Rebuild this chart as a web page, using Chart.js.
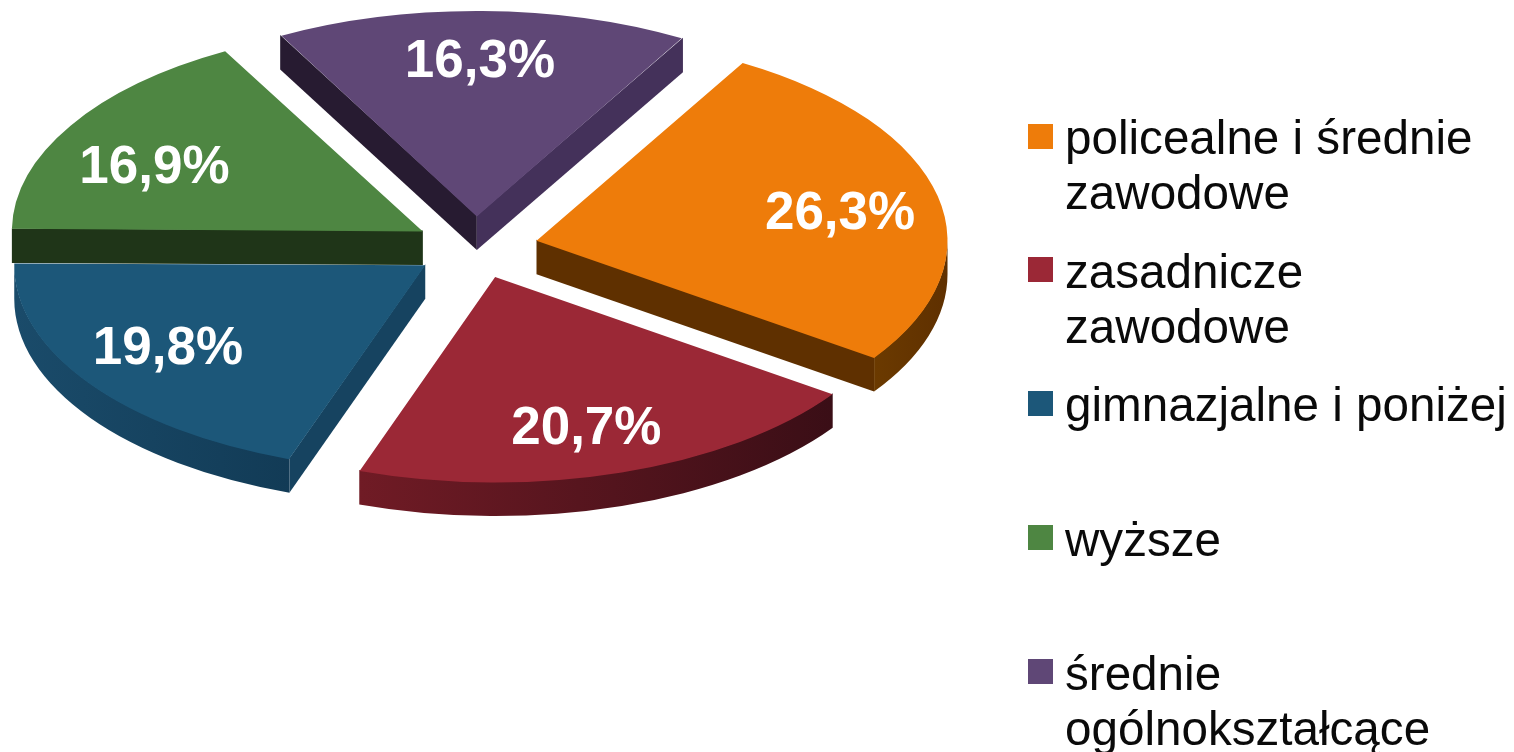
<!DOCTYPE html>
<html lang="pl">
<head>
<meta charset="utf-8">
<title>Wykształcenie</title>
<script src="https://cdn.jsdelivr.net/npm/chart.js@4"></script>
<style>
  html, body { margin: 0; padding: 0; background: #fff; overflow: hidden; }
  #wrap { position: relative; width: 1514px; height: 752px; }
  canvas { position: absolute; left: 0; top: 0; }
  .swatch { position: absolute; left: 1028px; width: 25px; height: 25px; }
  .entry {
    position: absolute; left: 1065px; white-space: pre;
    font: 47.6px/54.6px "Liberation Sans", Arial, sans-serif; color: #0a0a0a;
  }
</style>
</head>
<body>
<div id="wrap">
  <canvas id="myChart" width="1514" height="752"></canvas>
</div>
<script>
// data
const categories = [
  "policealne i średnie zawodowe",
  "zasadnicze zawodowe",
  "gimnazjalne i poniżej",
  "wyższe",
  "średnie ogólnokształcące",
];
const shares = [26.3, 20.7, 19.8, 16.9, 16.3];
const legendLines = [
  ["policealne i średnie", "zawodowe"],
  ["zasadnicze", "zawodowe"],
  ["gimnazjalne i poniżej"],
  ["wyższe"],
  ["średnie", "ogólnokształcące"],
];

// colours: top face, cut walls [start, end] (null = faces away), rim gradient [from, to]
const topColors = ["#ee7c0a", "#9b2836", "#1c5779", "#4e8642", "#5f4776"];
const wallColors = [
  [null, "#5f3000"],
  [null, null],
  ["#164360", null],
  ["#1f3518", null],
  ["#271b31", "#44315a"],
];
const rimColors = [
  ["#5f3000", "#6b3a00"],
  ["#3a0e16", "#701b25"],
  ["#123b56", "#1a4b6a"],
  ["#1f3518", "#1f3518"],
  ["#271b31", "#44315a"],
];

// layout
const squash = 0.5;
const depth = 33.5;
const pieRadius = 411;
const explode = 62;
const labelRadius = 312;
const labelNudge = [[-1, 3.5], [-5, 0], [-2, -9.5], [-1, 12.5], [-1, -2.5]];
const swatchTops = [124, 257, 391, 525, 659];
const legendTops = [111, 245, 378, 513, 647];

// legend on the right
const wrap = document.getElementById("wrap");
categories.forEach((name, i) => {
  const swatch = document.createElement("div");
  swatch.className = "swatch";
  swatch.style.top = swatchTops[i] + "px";
  swatch.style.background = topColors[i];
  wrap.appendChild(swatch);

  const entry = document.createElement("div");
  entry.className = "entry";
  entry.style.top = legendTops[i] + "px";
  entry.textContent = legendLines[i].join("\n");
  wrap.appendChild(entry);
});

// where a slice's tip lands on screen after the offset and the squash
function sliceTip(arc) {
  const mid = (arc.startAngle + arc.endAngle) / 2;
  return {
    x: arc.x + Math.cos(mid) * explode,
    y: arc.y + Math.sin(mid) * explode * squash,
  };
}

// walls start 1px up under the top face so no white seam shows between them
function drawCutWall(ctx, tip, angle, color) {
  if (!color) return;
  const rimX = tip.x + Math.cos(angle) * pieRadius;
  const rimY = tip.y + Math.sin(angle) * pieRadius * squash;
  ctx.fillStyle = color;
  ctx.beginPath();
  ctx.moveTo(tip.x, tip.y - 1);
  ctx.lineTo(rimX, rimY - 1);
  ctx.lineTo(rimX, rimY + depth);
  ctx.lineTo(tip.x, tip.y + depth);
  ctx.closePath();
  ctx.fill();
}

function drawRimWall(ctx, tip, startAngle, endAngle, colors) {
  // only the front half of the rim faces the viewer
  const from = Math.max(startAngle, 0);
  const to = Math.min(endAngle, Math.PI);
  if (to <= from) return;

  const x0 = tip.x + Math.cos(from) * pieRadius;
  const x1 = tip.x + Math.cos(to) * pieRadius;
  const gradient = ctx.createLinearGradient(x0, 0, x1, 0);
  gradient.addColorStop(0, colors[0]);
  gradient.addColorStop(1, colors[1]);

  ctx.fillStyle = gradient;
  ctx.beginPath();
  ctx.ellipse(tip.x, tip.y - 1, pieRadius, pieRadius * squash, 0, from, to);
  ctx.ellipse(tip.x, tip.y + depth, pieRadius, pieRadius * squash, 0, to, from, true);
  ctx.closePath();
  ctx.fill();
}

// turns the flat pie into a tilted disc with a thick edge
const tiltedPie = {
  id: "tiltedPie",
  beforeDatasetDraw(chart) {
    const { ctx } = chart;
    const arcs = chart.getDatasetMeta(0).data;

    arcs.forEach((arc, i) => {
      const tip = sliceTip(arc);
      let start = arc.startAngle;
      let end = arc.endAngle;
      // bring the angles back to the 0..2pi range for the rim test
      while (start < 0) { start += Math.PI * 2; end += Math.PI * 2; }
      if (start > Math.PI && end > Math.PI * 2) { start -= Math.PI * 2; end -= Math.PI * 2; }
      drawCutWall(ctx, tip, arc.startAngle, wallColors[i][0]);
      drawCutWall(ctx, tip, arc.endAngle, wallColors[i][1]);
      drawRimWall(ctx, tip, start, end, rimColors[i]);

      // the arc element grows narrow slices by offset * fix, take that back out
      const fix = 1 - Math.sin(Math.min(Math.PI, arc.endAngle - arc.startAngle));
      arc.outerRadius = pieRadius - explode * fix;
    });

    const { x, y } = arcs[0];
    ctx.save();
    ctx.translate(x, y);
    ctx.scale(1, squash);
    ctx.translate(-x, -y);
  },
  afterDatasetDraw(chart) {
    const { ctx } = chart;
    ctx.restore();

    // percentage labels
    ctx.save();
    ctx.font = 'bold 53px "Liberation Sans", Arial, sans-serif';
    ctx.fillStyle = "#ffffff";
    ctx.textAlign = "center";
    ctx.textBaseline = "alphabetic";
    chart.getDatasetMeta(0).data.forEach((arc, i) => {
      const tip = sliceTip(arc);
      const mid = (arc.startAngle + arc.endAngle) / 2;
      const labelX = tip.x + Math.cos(mid) * labelRadius + labelNudge[i][0];
      const labelY = tip.y + Math.sin(mid) * labelRadius * squash + labelNudge[i][1];
      const text = shares[i].toFixed(1).replace(".", ",") + "%";
      ctx.fillText(text, labelX, labelY + 19);
    });
    ctx.restore();
  },
};

new Chart(document.getElementById("myChart"), {
  type: "pie",
  data: {
    labels: categories,
    datasets: [
      {
        data: shares,
        backgroundColor: topColors,
        borderWidth: 0,
        // the arc element only moves by a quarter of this
        offset: explode * 4,
        clip: false,
      },
    ],
  },
  options: {
    responsive: false,
    animation: false,
    rotation: 30.1,
    radius: pieRadius,
    layout: { padding: { left: 0, top: 0, right: 562, bottom: 257 } },
    plugins: {
      legend: { display: false },
      tooltip: { enabled: false },
    },
  },
  plugins: [tiltedPie],
});
</script>
</body>
</html>
